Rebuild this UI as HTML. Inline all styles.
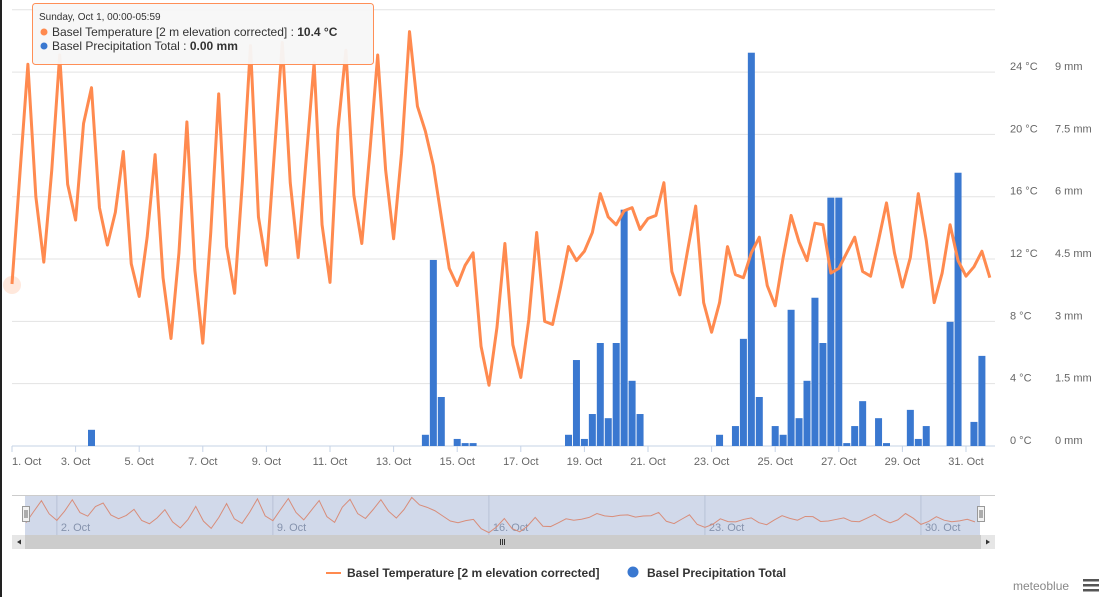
<!DOCTYPE html>
<html><head><meta charset="utf-8"><style>
body{margin:0;width:1110px;height:597px;overflow:hidden;background:#fff;font-family:"Liberation Sans",sans-serif}
svg text{font-family:"Liberation Sans",sans-serif}
</style></head><body>
<svg id="chart" width="1110" height="597" viewBox="0 0 1110 597" xmlns="http://www.w3.org/2000/svg">
<rect x="0" y="0" width="2" height="597" fill="#222"/>
<g id="grid"></g>
<g id="bars"></g>
<g id="line"></g>
<g id="axes"></g>
<g id="nav"></g>
<g>
<g><line x1="326" y1="573" x2="341" y2="573" stroke="#ff8a4f" stroke-width="2"/><text x="347" y="577" font-size="12" fill="#333" font-weight="bold">Basel Temperature [2 m elevation corrected]</text></g>
<g><circle cx="633" cy="572" r="5.5" fill="#3a78d0"/><text x="647" y="577" font-size="12" fill="#333" font-weight="bold">Basel Precipitation Total</text></g>
</g>
<text x="1013" y="590" font-size="12" fill="#888">meteoblue</text>
<g fill="#555"><rect x="1083" y="579" width="16" height="2.5"/><rect x="1083" y="584" width="16" height="2.5"/><rect x="1083" y="589" width="16" height="2.5"/></g>
<circle cx="12" cy="285" r="9" fill="#ff8a4f" opacity="0.2"/>
<g>
<rect x="32.5" y="3.5" width="341" height="61" rx="3" fill="#f7f7f7" stroke="#ff8a4f" opacity="0.95"/>
<text x="39" y="20" font-size="10" fill="#333">Sunday, Oct 1, 00:00-05:59</text>
<circle cx="44" cy="32" r="3.5" fill="#ff8a4f"/>
<text x="52" y="36" font-size="12" fill="#333">Basel Temperature [2 m elevation corrected] : <tspan font-weight="bold">10.4 °C</tspan></text>
<circle cx="44" cy="46" r="3.5" fill="#3a78d0"/>
<text x="52" y="50" font-size="12" fill="#333">Basel Precipitation Total : <tspan font-weight="bold">0.00 mm</tspan></text>
</g>
</svg>
<script>
const temps=[10.4,17.5,24.5,16.0,11.8,17.7,25.1,16.8,14.5,20.7,23.0,15.3,12.9,15.0,18.9,11.7,9.6,13.4,18.7,10.8,6.9,12.4,20.8,11.3,6.6,13.7,22.6,12.8,9.8,17.1,25.7,14.7,11.6,18.8,25.9,16.9,12.1,18.4,24.6,14.2,10.5,20.3,25.4,16.1,13.0,18.8,25.1,17.7,13.3,18.8,26.6,21.8,20.2,18.0,14.7,11.4,10.3,11.6,12.4,6.4,3.9,7.6,13.0,6.5,4.4,8.1,13.7,8.0,7.8,10.2,12.8,11.9,12.5,13.7,16.2,14.7,14.2,15.1,15.3,13.9,14.6,14.8,16.9,11.2,9.7,12.6,15.4,9.2,7.3,9.2,12.8,11.0,10.8,12.4,13.4,10.3,9.0,12.1,14.8,13.1,11.9,14.3,14.2,11.1,11.4,12.4,13.4,11.2,10.9,13.2,15.6,12.4,10.2,12.1,16.2,13.2,9.2,11.1,14.2,11.9,10.9,11.5,12.5,10.8];
const precipIdx=[10,52,53,54,56,57,58,70,71,72,73,74,75,76,77,78,79,89,91,92,93,94,96,97,98,99,100,101,102,103,104,105,106,107,109,110,113,114,115,118,119,121,122];
const precipVal=[0.39,0.27,4.48,1.18,0.17,0.07,0.07,0.27,2.07,0.17,0.77,2.48,0.67,2.48,5.69,1.57,0.77,0.27,0.48,2.58,9.47,1.18,0.48,0.27,3.28,0.67,1.57,3.57,2.48,5.98,5.98,0.07,0.48,1.08,0.67,0.07,0.87,0.17,0.48,2.99,6.58,0.58,2.17];
const tempTicks=[0,4,8,12,16,20,24,28];
const mmTicks=["0 mm","1.5 mm","3 mm","4.5 mm","6 mm","7.5 mm","9 mm",""];
const dayTicks=[1,3,5,7,9,11,13,15,17,19,21,23,25,27,29,31];
const navTicks=[2,9,16,23,30];

const NS="http://www.w3.org/2000/svg";
const X0=12,DX=7.95,Y0=446,PXC=15.58,PXMM=41.53;
const xi=i=>X0+DX*i;
const yT=t=>Y0-t*PXC;
const yMM=m=>Y0-m*PXMM;
const xDay=d=>X0+(d-1)*DX*4;
const nx=i=>26+30.86*(i/4);
const ny=t=>534-(t-3)*1.55;
function el(tag,attrs,parent,txt){const e=document.createElementNS(NS,tag);for(const k in attrs)e.setAttribute(k,attrs[k]);if(txt!=null)e.textContent=txt;parent.appendChild(e);return e;}
const grid=document.getElementById('grid'),axes=document.getElementById('axes');
tempTicks.forEach((t,k)=>{
  const g=el('line',{x1:12,x2:995,y1:yT(t),y2:yT(t),stroke:t===0?'#c6d3e6':'#e3e3e3','stroke-width':1},grid);
  
  
  if(t<28){
    const a=el('text',{x:1010,y:yT(t)-2,'font-size':11,fill:'#666'},axes,t+' °C');
    
    
    const b=el('text',{x:1055,y:yT(t)-2,'font-size':11,fill:'#666'},axes,mmTicks[k]);
    
    
  }
});
dayTicks.forEach((d,k)=>{
  const x=xDay(d);
  const tk=el('line',{x1:x,x2:x,y1:446,y2:452,stroke:'#c6d3e6'},axes);
  
  
  const t=el('text',{x:k===0?x:x,y:465,'font-size':11,fill:'#666','text-anchor':k===0?'start':'middle'},axes,d+'. Oct');
  
  
});
const bars=document.getElementById('bars');
precipIdx.forEach((i,k)=>{
  const y=yMM(precipVal[k]);
  const r=el('rect',{x:xi(i)-3.5,y:y,width:7,height:Y0-y,fill:'#3a78d0'},bars);
  
  
});
const line=document.getElementById('line');
const p=el('polyline',{points:temps.map((t,i)=>xi(i)+','+yT(t)).join(' '),fill:'none',stroke:'#ff8a4f','stroke-width':3,'stroke-linejoin':'round'},line);


const nav=document.getElementById('nav');
const bg=el('rect',{x:25,y:495,width:955,height:40,fill:'#d1d9ea'},nav);


el('line',{x1:12,x2:995,y1:495.5,y2:495.5,stroke:'#ccc'},nav);
navTicks.forEach(d=>{
  const x=26+30.86*(d-1);
  el('line',{x1:x,x2:x,y1:495,y2:535,stroke:'#b8c2d6'},nav);
  const t=el('text',{x:x+4,y:531,'font-size':11,fill:'#8693ad'},nav,d+'. Oct');
  
  
});
const nl=el('polyline',{points:temps.map((t,i)=>nx(i)+','+ny(t)).join(' '),fill:'none',stroke:'#d88d7a','stroke-width':1},nav);


[[22,25],[977,980]].forEach(([x])=>{
  const h=el('rect',{x:x+0.5,y:506.5,width:7,height:15,fill:'#f2f2f2',stroke:'#999'},nav);
  
  
  el('line',{x1:x+3,x2:x+3,y1:510,y2:518,stroke:'#666'},nav);
  el('line',{x1:x+5,x2:x+5,y1:510,y2:518,stroke:'#666'},nav);
});
const sb=el('rect',{x:12,y:535,width:983,height:14,fill:'#cccccc'},nav);


const lb=el('rect',{x:12,y:535,width:13,height:14,fill:'#e6e6e6'},nav);


el('path',{d:'M17 542 L21 539.5 L21 544.5 Z',fill:'#333'},nav);
const rb=el('rect',{x:981,y:535,width:14,height:14,fill:'#e6e6e6'},nav);


el('path',{d:'M990 542 L986 539.5 L986 544.5 Z',fill:'#333'},nav);
[500,502,504].forEach(x=>el('line',{x1:x+0.5,x2:x+0.5,y1:539,y2:545,stroke:'#333'},nav));
</script>
</body></html>
